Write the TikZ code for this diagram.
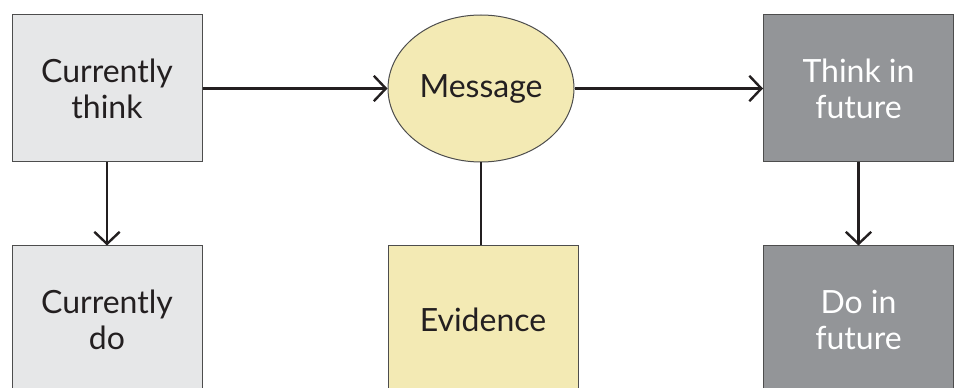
\documentclass[tikz,border=0pt]{standalone}
\usepackage{fontspec}
\setmainfont{Lato}
\usetikzlibrary{arrows.meta,shapes.geometric}

\definecolor{nowgrey}{RGB}{230,231,232}
\definecolor{msgyellow}{RGB}{243,234,180}
\definecolor{futuregrey}{RGB}{147,149,152}
\definecolor{edgegrey}{RGB}{77,77,77}
\definecolor{inkblack}{RGB}{35,31,32}

\tikzset{
  stagebox/.style={rectangle, draw=edgegrey, line width=0.75pt, minimum width=142.5pt, minimum height=110.25pt,
    align=center, font=\fontsize{24}{27}\selectfont, text=inkblack, inner sep=0pt},
  nowbox/.style={stagebox, fill=nowgrey},
  futurebox/.style={stagebox, fill=futuregrey, text=white},
  msgbox/.style={stagebox, fill=msgyellow},
  flow/.style={line width=1.8pt, inkblack, -{Straight Barb[length=9pt,width=19pt,line width=1.8pt]}},
  link/.style={line width=1.8pt, inkblack}
}

\begin{document}
\begin{tikzpicture}[x=0.75pt,y=0.75pt,yscale=-1]
\useasboundingbox (0,0) rectangle (956,388);
\clip (0,0) rectangle (956,388);

% Stage Nodes
\node [nowbox] (think) at (107,88.5) {Currently\\think};
\node [nowbox] (do) at (107,319.5) {Currently\\do};
\node [msgbox, ellipse, minimum width=139.5pt] (msg) at (481,88.5) {Message};
\node [msgbox] (evid) at (483,319.5) {Evidence};
\node [futurebox] (futthink) at (858.5,88.5) {Think in\\future};
\node [futurebox] (futdo) at (858.5,319.5) {Do in\\future};

% Connectors
\draw [flow] (think.east) -- (msg.west);
\draw [flow] (msg.east) -- (futthink.west);
\draw [flow] (think.south) -- (do.north);
\draw [flow] (futthink.south) -- (futdo.north);
\draw [link] (msg.south) -- (msg.south |- evid.north);

\end{tikzpicture}
\end{document}
